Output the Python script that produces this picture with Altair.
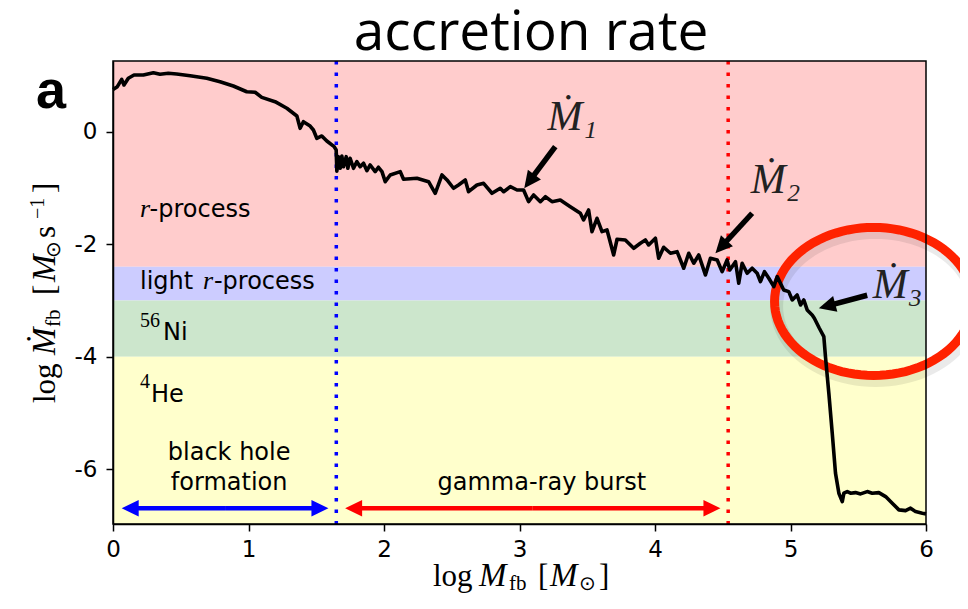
import math
import altair as alt
import pandas as pd

# ---------------- data ----------------
curve_x = [0.0, 0.032, 0.064, 0.081, 0.113, 0.155, 0.224, 0.298, 0.347, 0.408, 0.47, 0.569, 0.692, 0.79, 0.888,
           0.987, 1.049, 1.098, 1.196, 1.283, 1.357, 1.381, 1.405, 1.455, 1.479, 1.504, 1.541, 1.578, 1.632, 1.647,
           1.652, 1.664, 1.677, 1.689, 1.701, 1.721, 1.733, 1.750, 1.775, 1.800, 1.824, 1.849, 1.874, 1.898, 1.935,
           1.959, 1.985, 2.009, 2.046, 2.120, 2.144, 2.243, 2.329, 2.378, 2.428, 2.465, 2.513, 2.550, 2.600, 2.624,
           2.686, 2.735, 2.797, 2.858, 2.883, 2.932, 2.982, 3.030, 3.067, 3.104, 3.154, 3.191, 3.240, 3.301, 3.375,
           3.449, 3.473, 3.510, 3.535, 3.572, 3.609, 3.646, 3.695, 3.720, 3.781, 3.843, 3.892, 3.929, 3.953, 4.003,
           4.027, 4.064, 4.114, 4.163, 4.212, 4.249, 4.286, 4.323, 4.372, 4.409, 4.459, 4.496, 4.532, 4.552, 4.594,
           4.618, 4.643, 4.680, 4.717, 4.754, 4.778, 4.808, 4.840, 4.877, 4.902, 4.950, 4.987, 5.013, 5.049, 5.074,
           5.098, 5.123, 5.160, 5.176, 5.213, 5.246, 5.258, 5.283, 5.308, 5.332, 5.357, 5.382, 5.394, 5.419, 5.443,
           5.480, 5.517, 5.566, 5.603, 5.652, 5.702, 5.751, 5.800, 5.849, 5.886, 5.923, 5.973, 6.0]
curve_y = [0.75, 0.80, 0.93, 0.83, 0.95, 1.007, 1.007, 1.048, 1.02, 1.037, 1.025, 0.995, 0.948, 0.888, 0.812,
           0.71, 0.70, 0.61, 0.533, 0.416, 0.279, 0.06, 0.178, 0.10, 0.03, -0.117, -0.076, -0.165, -0.266, -0.325,
           -0.70, -0.444, -0.650, -0.432, -0.622, -0.444, -0.650, -0.472, -0.650, -0.533, -0.622, -0.561, -0.693,
           -0.591, -0.710, -0.632, -0.710, -0.888, -0.769, -0.710, -0.845, -0.828, -0.888, -1.094, -0.769, -0.858,
           -1.005, -0.947, -0.858, -1.066, -0.947, -0.917, -1.094, -1.005, -1.066, -0.977, -1.036, -1.036, -1.243,
           -1.124, -1.243, -1.155, -1.243, -1.213, -1.332, -1.449, -1.568, -1.391, -1.776, -1.538, -1.776, -1.746,
           -2.190, -1.911, -1.924, -2.071, -1.982, -1.924, -2.012, -1.893, -2.249, -2.053, -2.160, -2.131, -2.426,
           -2.160, -2.337, -2.190, -2.545, -2.249, -2.279, -2.487, -2.279, -2.456, -2.309, -2.693, -2.337, -2.515,
           -2.426, -2.515, -2.664, -2.487, -2.604, -2.753, -2.575, -2.812, -2.842, -2.989, -2.901, -3.078, -2.989,
           -3.167, -3.256, -3.314, -3.492, -3.641, -3.996, -4.647, -5.357, -6.067, -6.423, -6.572, -6.423, -6.394,
           -6.423, -6.412, -6.435, -6.394, -6.423, -6.412, -6.483, -6.600, -6.719, -6.732, -6.689, -6.750, -6.778,
           -6.790]

band_bottom = [-2.4, -3.0, -4.0, -6.97]
band_top = [1.256, -2.4, -3.0, -4.0]
band_color = ["#ffcccc", "#ccccff", "#cce6cc", "#ffffcc"]

marker_x = [1.648, 4.54]
marker_color = ["#0000ff", "#ff0000"]

span_x0 = [0.064, 1.713]
span_x1 = [1.59, 4.483]
span_y = [-6.69, -6.69]
span_color = ["#0000ff", "#ff0000"]

ptr_tail_x = [3.264, 4.717, 5.566]
ptr_tail_y = [-0.266, -1.449, -2.906]
ptr_tip_x = [3.035, 4.446, 5.209]
ptr_tip_y = [-1.005, -2.160, -3.137]
ptr_label = ["Ṁ₁", "Ṁ₂", "Ṁ₃"]
ptr_label_x = [3.39, 4.89, 5.79]
ptr_label_y = [0.03, -1.094, -2.96]

ring_x = [5.613]
ring_y = [-3.016]

x_ticks = [0, 1, 2, 3, 4, 5, 6]
y_ticks = [-6, -4, -2, 0]

# band labels
sans_text = ["-process", "light", "-process", "Ni", "He"]
sans_x = [0.27, 0.199, 0.745, 0.369, 0.28]
sans_y = [-1.51, -2.80, -2.80, -3.70, -4.80]
ital_text = ["r", "r"]
ital_x = [0.199, 0.664]
ital_y = [-1.51, -2.80]
sup_text = ["56", "4"]
sup_x = [0.199, 0.199]
sup_y = [-3.47, -4.56]
phase_text = ["black hole", "formation", "gamma-ray burst"]
phase_x = [0.857, 0.857, 3.165]
phase_y = [-5.83, -6.36, -6.36]

# axis-title pieces (LaTeX-like): text, style, size
xt_text = ["log", "M", "fb", "[", "M", "⊙", "]"]
xt_ital = [False, True, False, False, True, False, False]
xt_size = [31, 33, 21, 31, 33, 20, 31]
yt_text = ["log", "Ṁ", "fb", "[", "M", "⊙", "s", "−1", "]"]
yt_ital = [False, True, False, False, True, False, False, False, False]
yt_size = [31, 33, 21, 31, 33, 20, 31, 20, 31]

# ---------------- layout ----------------
W, H = 813, 463
XDOM = [0.0, 6.0]
YDOM = [-6.97, 1.256]
XPX = W / (XDOM[1] - XDOM[0])
YPX = H / (YDOM[1] - YDOM[0])

SANS = "DejaVu Sans"
SERIF = "Liberation Serif"

# pixel anchors of the axis-title pieces, relative to the plot's top-left corner
xt_px = [320, 366, 396, 425, 437, 466, 486]
xt_py = [525, 525, 529, 525, 525, 529, 525]
yt_px = [-58, -58, -53, -58, -58, -53, -58, -69, -58]
yt_py = [342, 294, 266, 234, 221, 197, 177, 158, 132]

xscale = alt.Scale(domain=XDOM, nice=False, zero=False)
yscale = alt.Scale(domain=YDOM, nice=False, zero=False)

xaxis = alt.Axis(values=x_ticks, tickSize=7, tickWidth=1.5, tickColor="black", domainColor="black", domainWidth=1.5,
                 labelFont=SANS, labelFontSize=23, labelColor="black", labelPadding=7, title="",
                 grid=False, zindex=1, labelFlush=False)
yaxis = alt.Axis(values=y_ticks, tickSize=7, tickWidth=1.5, tickColor="black", domainColor="black", domainWidth=1.5,
                 labelFont=SANS, labelFontSize=23, labelColor="black", labelPadding=9,
                 labelExpr="datum.value < 0 ? '-' + abs(datum.value) : '' + datum.value",
                 title="", grid=False, zindex=1, labelFlush=False)


def to_px(xd, yd):
    return (xd - XDOM[0]) * XPX, (YDOM[1] - yd) * YPX


def to_data(xp, yp):
    return xp / XPX + XDOM[0], YDOM[1] - yp / YPX


def X(f):
    return alt.X(f, type="quantitative", scale=xscale, axis=xaxis)


def Y(f):
    return alt.Y(f, type="quantitative", scale=yscale, axis=yaxis)


# bands
bands = pd.DataFrame({"x0": [XDOM[0]] * 4, "x1": [XDOM[1]] * 4, "lo": band_bottom, "hi": band_top, "c": band_color})
band_layer = alt.Chart(bands).mark_rect(opacity=1).encode(
    x=X("x0"), x2="x1", y=Y("lo"), y2="hi", color=alt.Color("c:N", scale=None))

# vertical dotted markers
vl = pd.DataFrame({"x": marker_x, "c": marker_color})
vline_layer = alt.Chart(vl).mark_rule(strokeWidth=3.5, strokeDash=[3.5, 8], strokeCap="butt").encode(
    x=X("x"), color=alt.Color("c:N", scale=None))

# ring (drawn under the curve)
RX, RY = 99.0, 74.0
pts = []
for k in range(97):
    t = 2 * math.pi * k / 96
    pts.append(f"{math.cos(t):.4f},{(RY / RX) * math.sin(t):.4f}")
ring_path = "M" + " L".join(pts) + " Z"
ring_df = pd.DataFrame({"x": ring_x, "y": ring_y})
sx, sy = to_px(ring_x[0], ring_y[0])
shx, shy = to_data(sx + 2, sy + 5)
shadow_df = pd.DataFrame({"x": [shx], "y": [shy]})
shadow_layer = alt.Chart(shadow_df).mark_point(shape=ring_path, filled=False, size=(2 * RX) ** 2, strokeWidth=13,
                                               color="#000000", opacity=0.08).encode(x=X("x"), y=Y("y"))
ring_layer = alt.Chart(ring_df).mark_point(shape=ring_path, filled=False, size=(2 * RX) ** 2, strokeWidth=9,
                                           color="#ff2200", opacity=1).encode(x=X("x"), y=Y("y"))

# curve
cdf = pd.DataFrame({"x": curve_x, "y": curve_y, "i": range(len(curve_x))})
curve_layer = alt.Chart(cdf).mark_line(color="black", strokeWidth=3.6, strokeJoin="round").encode(
    x=X("x"), y=Y("y"), order="i:Q")

# arrows
HEAD = "M0,0 L0.48,1 L-0.48,1 Z"
shaft_rows, head_rows = [], []


def add_arrow(tail, tip, head_len, width, col):
    tx, ty = to_px(*tail)
    hx, hy = to_px(*tip)
    L = math.hypot(hx - tx, hy - ty)
    ux, uy = (hx - tx) / L, (hy - ty) / L
    ex, ey = to_data(hx - ux * head_len * 0.7, hy - uy * head_len * 0.7)
    shaft_rows.append({"x": tail[0], "y": tail[1], "x2": ex, "y2": ey, "c": col, "w": width})
    ang = math.degrees(math.atan2(ux, -uy)) % 360
    head_rows.append({"x": tip[0], "y": tip[1], "a": ang, "c": col, "s": (2 * head_len) ** 2})


for i in range(len(ptr_tip_x)):
    add_arrow((ptr_tail_x[i], ptr_tail_y[i]), (ptr_tip_x[i], ptr_tip_y[i]), 17, 5.5, "black")
for i in range(len(span_x0)):
    mid = ((span_x0[i] + span_x1[i]) / 2, span_y[i])
    add_arrow(mid, (span_x0[i], span_y[i]), 17, 4.5, span_color[i])
    add_arrow(mid, (span_x1[i], span_y[i]), 17, 4.5, span_color[i])

shaft_layer = alt.Chart(pd.DataFrame(shaft_rows)).mark_rule(strokeCap="butt").encode(
    x=X("x"), y=Y("y"), x2="x2", y2="y2", color=alt.Color("c:N", scale=None),
    strokeWidth=alt.StrokeWidth("w:Q", scale=None))
head_layer = alt.Chart(pd.DataFrame(head_rows)).mark_point(shape=HEAD, filled=True, opacity=1).encode(
    x=X("x"), y=Y("y"), angle=alt.Angle("a:Q", scale=None), color=alt.Color("c:N", scale=None),
    size=alt.Size("s:Q", scale=None))


def text_layer(texts, xs, ys, font, size, style="normal", align="left", color="black"):
    df = pd.DataFrame({"t": texts, "x": xs, "y": ys})
    return alt.Chart(df).mark_text(font=font, fontSize=size, fontStyle=style, align=align, baseline="alphabetic",
                                   color=color).encode(x=X("x"), y=Y("y"), text="t:N")


sans_layer = text_layer(sans_text, sans_x, sans_y, SANS, 24)
ital_layer = text_layer(ital_text, ital_x, ital_y, SERIF, 26, style="italic")
sup_layer = text_layer(sup_text, sup_x, sup_y, SERIF, 20)
phase_layer = text_layer(phase_text, phase_x, phase_y, SANS, 24, align="center")
ptr_layer = text_layer(ptr_label, ptr_label_x, ptr_label_y, SERIF, 42, style="italic", align="center", color="#222222")


# axis titles built from pieces
def piece_layers(texts, itals, sizes, pxs, pys, angle):
    rows = []
    for t, it, s, a, b in zip(texts, itals, sizes, pxs, pys):
        xd, yd = to_data(a, b)
        rows.append({"t": t, "it": it, "s": s, "x": xd, "y": yd})
    df = pd.DataFrame(rows)
    out = []
    for flag, style in [(False, "normal"), (True, "italic")]:
        sub = df[df["it"] == flag]
        out.append(alt.Chart(sub).mark_text(font=SERIF, fontStyle=style, align="left", baseline="alphabetic",
                                            angle=angle, color="black").encode(
            x=X("x"), y=Y("y"), text="t:N", size=alt.Size("s:Q", scale=None)))
    return out


xt_layers = piece_layers(xt_text, xt_ital, xt_size, xt_px, xt_py, 0)
yt_layers = piece_layers(yt_text, yt_ital, yt_size, yt_px, yt_py, 270)

# frame, title, panel letter
one = pd.DataFrame({"t": ["accretion rate"], "p": ["a"]})
frame_layer = alt.Chart(one).mark_rect(filled=False, color="black", strokeWidth=1.5).encode(
    x=alt.value(0), x2=alt.value(W), y=alt.value(0), y2=alt.value(H))

title_layer = alt.Chart(one).mark_text(font="Open Sans", fontSize=55, align="center", baseline="alphabetic",
                                       color="black").encode(text="t:N", x=alt.value(418), y=alt.value(-11))
panel_layer = alt.Chart(one).mark_text(font="Liberation Sans", fontSize=54, fontWeight="bold", align="left",
                                       baseline="alphabetic", color="black").encode(
    text="p:N", x=alt.value(-77), y=alt.value(47))

chart = alt.layer(
    band_layer, vline_layer, shadow_layer, ring_layer, curve_layer, shaft_layer, head_layer,
    sans_layer, ital_layer, sup_layer, phase_layer, ptr_layer, *xt_layers, *yt_layers,
    frame_layer, title_layer, panel_layer
).properties(
    width=W, height=H,
    padding={"left": 105, "top": 53, "right": 34, "bottom": 72},
    autosize=alt.AutoSizeParams(type="none"),
    background="white",
).configure_view(strokeWidth=0)

chart.save("out.html", embed_options={"renderer": "svg", "actions": False})
